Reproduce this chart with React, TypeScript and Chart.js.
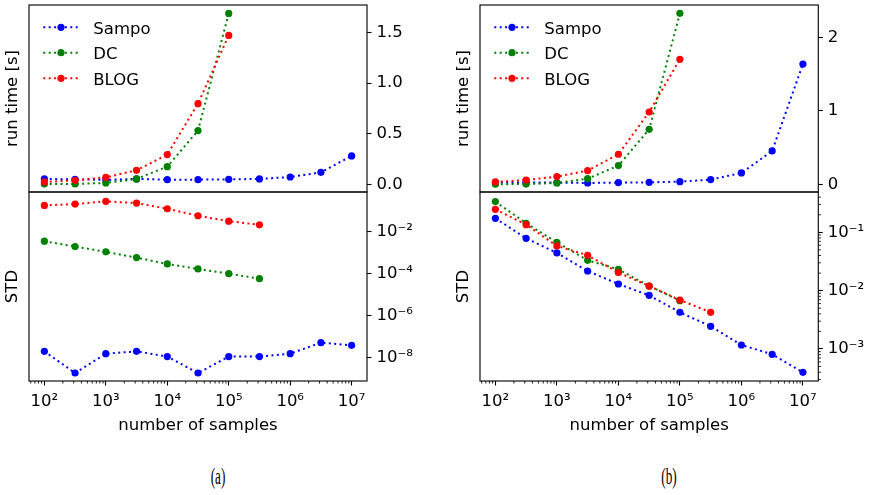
import React, { useEffect, useRef } from 'react';
import { Chart, registerables } from 'chart.js';

Chart.register(...registerables);

// ---------------- data ----------------
const SAMPLES = [100, 316, 1000, 3162, 10000, 31623, 100000, 316228, 1000000, 3162278, 10000000];
const SERIES_NAMES = ['Sampo', 'DC', 'BLOG'];
const SERIES_COLORS = ['#0000ff', '#008000', '#ff0000'];

// panel (a) run time [s]
const A_TIME_SAMPO = [0.053, 0.049, 0.043, 0.053, 0.046, 0.046, 0.049, 0.053, 0.072, 0.118, 0.28];
const A_TIME_DC = [0.003, 0.004, 0.013, 0.053, 0.174, 0.53, 1.687];
const A_TIME_BLOG = [0.023, 0.039, 0.069, 0.138, 0.293, 0.796, 1.47];

// panel (a) STD
const A_STD_SAMPO = [1.97e-8, 1.82e-9, 1.52e-8, 1.97e-8, 1.1e-8, 1.82e-9, 1.1e-8, 1.1e-8, 1.52e-8, 5.1e-8, 3.8e-8];
const A_STD_DC = [3.45e-3, 1.92e-3, 1.07e-3, 5.7e-4, 2.84e-4, 1.64e-4, 9.8e-5, 5.66e-5];
const A_STD_BLOG = [0.175, 0.203, 0.272, 0.226, 0.121, 0.056, 0.031, 0.0208];

// panel (b) run time [s]
const B_TIME_SAMPO = [0.023, 0.023, 0.023, 0.018, 0.023, 0.027, 0.036, 0.064, 0.155, 0.455, 1.641];
const B_TIME_DC = [0.002, 0.003, 0.018, 0.077, 0.255, 0.75, 2.332];
const B_TIME_BLOG = [0.032, 0.059, 0.105, 0.186, 0.41, 0.986, 1.705];

// panel (b) STD
const B_STD_SAMPO = [0.174, 0.0789, 0.0443, 0.0217, 0.013, 0.0083, 0.00425, 0.00245, 0.00117, 0.00081, 0.000398];
const B_STD_DC = [0.336, 0.143, 0.0674, 0.0331, 0.0232, 0.012, 0.00674];
const B_STD_BLOG = [0.248, 0.135, 0.0584, 0.0404, 0.0204, 0.012, 0.0069, 0.00425];

// ticks
const X_TICKS = [1e2, 1e3, 1e4, 1e5, 1e6, 1e7];
const X_TICK_LABELS = ['10²', '10³', '10⁴', '10⁵', '10⁶', '10⁷'];
const A_TIME_TICKS = [0, 0.5, 1, 1.5];
const A_TIME_LABELS = ['0.0', '0.5', '1.0', '1.5'];
const B_TIME_TICKS = [0, 1, 2];
const B_TIME_LABELS = ['0', '1', '2'];
const A_STD_TICKS = [1e-8, 1e-6, 1e-4, 1e-2];
const A_STD_LABELS = ['10⁻⁸', '10⁻⁶', '10⁻⁴', '10⁻²'];
const B_STD_TICKS = [1e-3, 1e-2, 1e-1];
const B_STD_LABELS = ['10⁻³', '10⁻²', '10⁻¹'];

// axis ranges
const X_MIN = 56.23;
const X_MAX = 17782794;
const A_TIME_RANGE = [-0.076, 1.77];
const B_TIME_RANGE = [-0.105, 2.446];
const A_STD_RANGE = [7.59e-10, 0.759];
const B_STD_RANGE = [2.825e-4, 0.491];

const FONT = 'DejaVu Sans';
const FS = 16.5;

function minorLog(min: number, max: number): number[] {
  const out: number[] = [];
  for (let e = Math.floor(Math.log10(min)); e <= Math.ceil(Math.log10(max)); e++) {
    for (let m = 2; m <= 9; m++) {
      const v = m * Math.pow(10, e);
      if (v >= min && v <= max) out.push(v);
    }
  }
  return out;
}
const X_MINOR = minorLog(X_MIN, X_MAX);

type PanelProps = {
  x: number; y: number; w: number; h: number;
  padTop: number; padBottom: number;
  rightW: number; leftW: number;
  yTitle: string;
  yType: 'linear' | 'logarithmic';
  yRange: number[];
  yTicks: number[]; yLabels: string[]; yMinor: number[];
  showX: boolean; xAxisH: number;
  series: number[][];
  legend: boolean;
};

function zeroPad(s: any) {
  s.paddingTop = 0;
  s.paddingBottom = 0;
  s.paddingLeft = 0;
  s.paddingRight = 0;
}

function Panel(p: PanelProps) {
  const ref = useRef<HTMLCanvasElement>(null);
  useEffect(() => {
    const font = { family: FONT, size: FS };
    const datasets = p.series.map((vals, i) => ({
      label: SERIES_NAMES[i],
      data: vals.map((v, j) => ({ x: SAMPLES[j], y: v })),
      borderColor: SERIES_COLORS[i],
      backgroundColor: SERIES_COLORS[i],
      pointBackgroundColor: SERIES_COLORS[i],
      pointBorderWidth: 0,
      pointRadius: 3.6,
      pointHoverRadius: 3.6,
      borderWidth: 2,
      borderDash: [2, 3.4],
      fill: false,
      tension: 0,
      order: 3 - i,
      clip: false as any,
      xAxisID: 'x',
      yAxisID: 'y',
    }));

    const deco = {
      id: 'deco',
      afterDraw(chart: any) {
        const ctx = chart.ctx as CanvasRenderingContext2D;
        const a = chart.chartArea;
        ctx.save();
        ctx.strokeStyle = '#000';
        ctx.lineWidth = 0.9;
        const ys = chart.scales.y;
        for (const v of p.yMinor) {
          const py = ys.getPixelForValue(v);
          ctx.beginPath(); ctx.moveTo(a.right, py); ctx.lineTo(a.right + 2.5, py); ctx.stroke();
        }
        if (p.showX) {
          const xs = chart.scales.x;
          for (const v of X_MINOR) {
            const px = xs.getPixelForValue(v);
            ctx.beginPath(); ctx.moveTo(px, a.bottom); ctx.lineTo(px, a.bottom + 2.5); ctx.stroke();
          }
        }
        ctx.lineWidth = 1.2;
        ctx.strokeStyle = '#111';
        ctx.strokeRect(a.left, a.top, a.right - a.left, a.bottom - a.top);
        if (p.legend) {
          const rows = [22.3, 47.7, 73.3];
          chart.data.datasets.forEach((d: any, i: number) => {
            const ry = a.top + rows[i];
            ctx.strokeStyle = d.borderColor;
            ctx.lineWidth = 2;
            ctx.setLineDash([2, 3.4]);
            ctx.beginPath(); ctx.moveTo(a.left + 14.3, ry); ctx.lineTo(a.left + 50, ry); ctx.stroke();
            ctx.setLineDash([]);
            ctx.fillStyle = d.borderColor;
            ctx.beginPath(); ctx.arc(a.left + 32, ry, 3.6, 0, Math.PI * 2); ctx.fill();
            ctx.fillStyle = '#000';
            ctx.font = `${FS}px "${FONT}"`;
            ctx.textAlign = 'left';
            ctx.textBaseline = 'alphabetic';
            ctx.fillText(d.label, a.left + 64.3, ry + 6.3);
          });
        }
        ctx.restore();
      },
    };

    const chart = new Chart(ref.current as HTMLCanvasElement, {
      type: 'line',
      data: { datasets: datasets as any },
      options: {
        animation: false,
        responsive: false,
        devicePixelRatio: 1,
        events: [],
        layout: { padding: { top: p.padTop, bottom: p.padBottom, left: 0, right: 0 } },
        plugins: { legend: { display: false }, tooltip: { enabled: false }, title: { display: false } },
        scales: {
          x: {
            type: 'logarithmic',
            display: p.showX,
            min: X_MIN,
            max: X_MAX,
            bounds: 'data',
            afterBuildTicks: (s: any) => { s.ticks = X_TICKS.map((v) => ({ value: v, major: false })); },
            afterFit: (s: any) => { s.height = p.xAxisH; zeroPad(s); },
            ticks: {
              autoSkip: false, maxRotation: 0, minRotation: 0, padding: 6, color: '#000', font,
              callback: (_v: any, i: number) => X_TICK_LABELS[i],
            },
            grid: { display: true, drawOnChartArea: false, drawTicks: true, tickLength: 4.5, tickColor: '#000', tickWidth: 1.1 },
            border: { display: false },
            title: { display: true, text: 'number of samples', color: '#000', font, padding: { top: 0, bottom: 12.6 } },
          } as any,
          yl: {
            type: 'linear',
            position: 'left',
            display: true,
            min: 0, max: 1,
            afterFit: (s: any) => { s.width = p.leftW; zeroPad(s); },
            ticks: { display: false },
            grid: { display: false, drawTicks: false },
            border: { display: false },
            title: { display: true, text: p.yTitle, color: '#000', font, padding: { top: 3.1, bottom: 0 } },
          } as any,
          y: {
            type: p.yType,
            position: 'right',
            min: p.yRange[0],
            max: p.yRange[1],
            bounds: 'data',
            afterBuildTicks: (s: any) => { s.ticks = p.yTicks.map((v) => ({ value: v, major: false })); },
            afterFit: (s: any) => { s.width = p.rightW; zeroPad(s); },
            ticks: {
              autoSkip: false, padding: 5, color: '#000', font,
              callback: (_v: any, i: number) => p.yLabels[i],
            },
            grid: { display: true, drawOnChartArea: false, drawTicks: true, tickLength: 4.5, tickColor: '#000', tickWidth: 1.1 },
            border: { display: false },
          } as any,
        },
      },
      plugins: [deco],
    });
    return () => chart.destroy();
  }, []);
  return (
    <canvas
      ref={ref}
      width={p.w}
      height={p.h}
      style={{ position: 'absolute', left: p.x, top: p.y, width: p.w, height: p.h, display: 'block' }}
    />
  );
}

const STD_A_MINOR: number[] = [];
const STD_B_MINOR = minorLog(B_STD_RANGE[0], B_STD_RANGE[1]);

export default function App() {
  const colA = 0;
  const colB = 451;
  const captionStyle = (cx: number): React.CSSProperties => ({
    position: 'absolute', left: cx, top: 464, fontFamily: '"Liberation Serif", "Times New Roman", serif',
    fontSize: 24, lineHeight: '24px', color: '#000', whiteSpace: 'nowrap',
    transform: 'translateX(-50%) scaleX(0.55)',
  });
  return (
    <div style={{ position: 'fixed', left: 0, top: 0, width: 875, height: 495, background: '#fff', overflow: 'hidden' }}>
      <Panel x={colA} y={0} w={440} h={196} padTop={5} padBottom={4} leftW={29} rightW={73}
        yTitle="run time [s]" yType="linear" yRange={A_TIME_RANGE} yTicks={A_TIME_TICKS} yLabels={A_TIME_LABELS} yMinor={[]}
        showX={false} xAxisH={0} series={[A_TIME_SAMPO, A_TIME_DC, A_TIME_BLOG]} legend={true} />
      <Panel x={colA} y={188} w={440} h={260} padTop={4} padBottom={0} leftW={29} rightW={73}
        yTitle="STD" yType="logarithmic" yRange={A_STD_RANGE} yTicks={A_STD_TICKS} yLabels={A_STD_LABELS} yMinor={STD_A_MINOR}
        showX={true} xAxisH={67} series={[A_STD_SAMPO, A_STD_DC, A_STD_BLOG]} legend={false} />
      <Panel x={colB} y={0} w={424} h={196} padTop={5} padBottom={4} leftW={29} rightW={56.7}
        yTitle="run time [s]" yType="linear" yRange={B_TIME_RANGE} yTicks={B_TIME_TICKS} yLabels={B_TIME_LABELS} yMinor={[]}
        showX={false} xAxisH={0} series={[B_TIME_SAMPO, B_TIME_DC, B_TIME_BLOG]} legend={true} />
      <Panel x={colB} y={188} w={424} h={260} padTop={4} padBottom={0} leftW={29} rightW={56.7}
        yTitle="STD" yType="logarithmic" yRange={B_STD_RANGE} yTicks={B_STD_TICKS} yLabels={B_STD_LABELS} yMinor={STD_B_MINOR}
        showX={true} xAxisH={67} series={[B_STD_SAMPO, B_STD_DC, B_STD_BLOG]} legend={false} />
      <div style={captionStyle(217.5)}>(a)</div>
      <div style={captionStyle(668.5)}>(b)</div>
    </div>
  );
}
